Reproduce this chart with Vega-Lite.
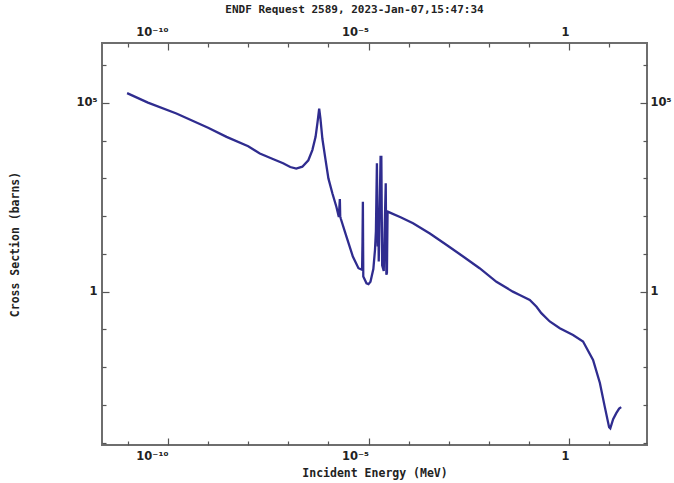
{
  "$schema": "https://vega.github.io/schema/vega-lite/v6.json",
  "autosize": "none",
  "width": 545,
  "height": 402,
  "padding": {"left": 102, "top": 43, "right": 27, "bottom": 38},
  "background": "white",
  "title": {
    "text": "ENDF Request 2589, 2023-Jan-07,15:47:34",
    "font": "DejaVu Sans Mono",
    "fontSize": 11,
    "fontWeight": "bold",
    "color": "#222222",
    "anchor": "middle",
    "dx": -20,
    "offset": 11
  },
  "config": {
    "view": {"stroke": "#6e6e6e", "strokeWidth": 2},
    "axis": {
      "domain": false,
      "grid": false,
      "tickColor": "#555555",
      "tickWidth": 1.2,
      "labelFont": "DejaVu Sans",
      "labelFontSize": 11.5,
      "labelFontWeight": "bold",
      "labelColor": "#222222",
      "titleFont": "DejaVu Sans Mono",
      "titleFontSize": 11.5,
      "titleFontWeight": "bold",
      "titleColor": "#222222"
    }
  },
  "data": {
    "values": [
      {"E": 9.55e-12, "xs": 182000},
      {"E": 3.16e-11, "xs": 102000},
      {"E": 1.62e-10, "xs": 52500},
      {"E": 1e-9, "xs": 21900},
      {"E": 2.88e-9, "xs": 12600},
      {"E": 1e-8, "xs": 7080},
      {"E": 1.95e-8, "xs": 4570},
      {"E": 3.98e-8, "xs": 3310},
      {"E": 7.41e-8, "xs": 2510},
      {"E": 1.12e-7, "xs": 2000},
      {"E": 1.58e-7, "xs": 1820},
      {"E": 2.24e-7, "xs": 2040},
      {"E": 3.16e-7, "xs": 3020},
      {"E": 3.98e-7, "xs": 5620},
      {"E": 4.79e-7, "xs": 12600},
      {"E": 5.37e-7, "xs": 31600},
      {"E": 5.89e-7, "xs": 70800},
      {"E": 6.31e-7, "xs": 39800},
      {"E": 7.08e-7, "xs": 11200},
      {"E": 8.32e-7, "xs": 3550},
      {"E": 1e-6, "xs": 1000},
      {"E": 1.26e-6, "xs": 398},
      {"E": 1.58e-6, "xs": 178},
      {"E": 1.82e-6, "xs": 95.5},
      {"E": 1.93e-6, "xs": 282},
      {"E": 1.97e-6, "xs": 100},
      {"E": 2.04e-6, "xs": 85.1},
      {"E": 2.82e-6, "xs": 28.8},
      {"E": 4.07e-6, "xs": 8.51},
      {"E": 5.62e-6, "xs": 4.17},
      {"E": 6.92e-6, "xs": 3.8},
      {"E": 7.08e-6, "xs": 20},
      {"E": 7.24e-6, "xs": 240},
      {"E": 7.41e-6, "xs": 2.51},
      {"E": 8.91e-6, "xs": 1.66},
      {"E": 1e-5, "xs": 1.58},
      {"E": 1.12e-5, "xs": 1.82},
      {"E": 1.32e-5, "xs": 3.98},
      {"E": 1.45e-5, "xs": 12.6},
      {"E": 1.53e-5, "xs": 39.8},
      {"E": 1.62e-5, "xs": 2512},
      {"E": 1.7e-5, "xs": 15.8},
      {"E": 1.76e-5, "xs": 126},
      {"E": 1.8e-5, "xs": 6.31},
      {"E": 2.0e-5, "xs": 3715},
      {"E": 2.09e-5, "xs": 3715},
      {"E": 2.19e-5, "xs": 5.01},
      {"E": 2.4e-5, "xs": 3.55},
      {"E": 2.51e-5, "xs": 31.6},
      {"E": 2.69e-5, "xs": 741},
      {"E": 2.79e-5, "xs": 2.82},
      {"E": 2.88e-5, "xs": 3.16},
      {"E": 2.99e-5, "xs": 132},
      {"E": 6.31e-5, "xs": 93.3},
      {"E": 1.29e-4, "xs": 64.6},
      {"E": 3.39e-4, "xs": 34.7},
      {"E": 8.71e-4, "xs": 17.4},
      {"E": 2.29e-3, "xs": 8.51},
      {"E": 5.89e-3, "xs": 4.17},
      {"E": 1.55e-2, "xs": 1.82},
      {"E": 3.98e-2, "xs": 1.0},
      {"E": 5.89e-2, "xs": 0.813},
      {"E": 0.105, "xs": 0.603},
      {"E": 0.155, "xs": 0.398},
      {"E": 0.204, "xs": 0.269},
      {"E": 0.331, "xs": 0.162},
      {"E": 0.589, "xs": 0.107},
      {"E": 1.26, "xs": 0.0708},
      {"E": 2.24, "xs": 0.0479},
      {"E": 3.98, "xs": 0.0155},
      {"E": 5.89, "xs": 0.0038},
      {"E": 7.76, "xs": 0.000912},
      {"E": 10.0, "xs": 0.000257},
      {"E": 10.7, "xs": 0.00024},
      {"E": 12.6, "xs": 0.000417},
      {"E": 15.1, "xs": 0.000603},
      {"E": 17.8, "xs": 0.000794},
      {"E": 20.0, "xs": 0.000871}
    ]
  },
  "layer": [
    {
      "mark": {"type": "line", "color": "#2f2c8f", "strokeWidth": 2.3, "clip": true},
      "encoding": {
        "x": {
          "field": "E", "type": "quantitative",
          "scale": {"type": "log", "domain": [2.26e-12, 88.1], "nice": false},
          "axis": {
            "orient": "bottom",
            "title": "Incident Energy (MeV)",
            "values": [1e-11, 1e-10, 1e-9, 1e-8, 1e-7, 1e-6, 1e-5, 1e-4, 1e-3, 1e-2, 1e-1, 1, 10],
            "labelExpr": "round(log(datum.value)/LN10) == 0 ? '1' : round(log(datum.value)/LN10) == -5 ? '10⁻⁵' : round(log(datum.value)/LN10) == -10 ? '10⁻¹⁰' : ''",
            "labelAlign": "right",
            "labelDx": 3,
            "tickSize": {"condition": {"test": "round(log(datum.value)/LN10) % 5 == 0", "value": -7}, "value": -4},
            "labelPadding": 12,
            "titlePadding": 6
          }
        },
        "y": {
          "field": "xs", "type": "quantitative",
          "scale": {"type": "log", "domain": [8.65e-5, 3.864e6], "nice": false},
          "axis": {
            "orient": "left",
            "title": "Cross Section (barns)",
            "values": [1e-4, 1e-3, 1e-2, 1e-1, 1, 10, 100, 1000, 1e4, 1e5, 1e6],
            "labelExpr": "round(log(datum.value)/LN10) == 0 ? '1' : round(log(datum.value)/LN10) == 5 ? '10⁵' : ''",
            "tickSize": {"condition": {"test": "round(log(datum.value)/LN10) % 5 == 0", "value": -7}, "value": -4},
            "labelPadding": 12,
            "titlePadding": 55
          }
        }
      }
    },
    {
      "mark": {"type": "line", "opacity": 0},
      "encoding": {
        "x": {
          "field": "E", "type": "quantitative",
          "axis": {
            "orient": "top",
            "title": null,
            "values": [1e-11, 1e-10, 1e-9, 1e-8, 1e-7, 1e-6, 1e-5, 1e-4, 1e-3, 1e-2, 1e-1, 1, 10],
            "labelExpr": "round(log(datum.value)/LN10) == 0 ? '1' : round(log(datum.value)/LN10) == -5 ? '10⁻⁵' : round(log(datum.value)/LN10) == -10 ? '10⁻¹⁰' : ''",
            "labelAlign": "right",
            "labelDx": 3,
            "tickSize": {"condition": {"test": "round(log(datum.value)/LN10) % 5 == 0", "value": -7}, "value": -4},
            "labelPadding": 13
          }
        },
        "y": {
          "field": "xs", "type": "quantitative",
          "axis": {
            "orient": "right",
            "title": null,
            "values": [1e-4, 1e-3, 1e-2, 1e-1, 1, 10, 100, 1000, 1e4, 1e5, 1e6],
            "labelExpr": "round(log(datum.value)/LN10) == 0 ? '1' : round(log(datum.value)/LN10) == 5 ? '10⁵' : ''",
            "tickSize": {"condition": {"test": "round(log(datum.value)/LN10) % 5 == 0", "value": -7}, "value": -4},
            "labelPadding": 10
          }
        }
      }
    }
  ],
  "resolve": {"axis": {"x": "independent", "y": "independent"}}
}
